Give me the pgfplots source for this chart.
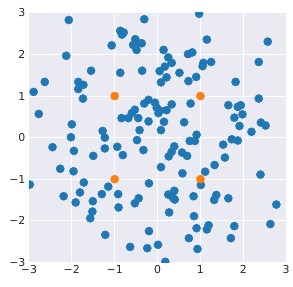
\documentclass[border=0pt]{standalone}
\usepackage{fontspec}
\setmainfont{DejaVu Sans}
\usepackage{pgfplots}
\pgfplotsset{compat=1.18}
\definecolor{sbbg}{HTML}{EAEAF2}
\definecolor{tabblue}{HTML}{1F77B4}
\definecolor{taborange}{HTML}{FF7F0E}
\definecolor{lab}{HTML}{262626}
\begin{document}
\begin{tikzpicture}
\begin{axis}[
  scale only axis,
  width=258bp, height=250bp,
  xmin=-3, xmax=3, ymin=-3, ymax=3,
  axis background/.style={fill=sbbg},
  axis line style={draw=none},
  major tick length=0pt,
  xtick={-3,-2,-1,0,1,2,3},
  ytick={-3,-2,-1,0,1,2,3},
  xticklabels={−3,−2,−1,0,1,2,3},
  yticklabels={−3,−2,−1,0,1,2,3},
  ticklabel style={font=\fontsize{11}{13}\selectfont, text=lab},
  grid=major,
  major grid style={white, line width=1bp},
  clip marker paths=true,
]
\addplot[only marks, mark=*, mark size=4.1bp, color=tabblue, mark options={draw=tabblue, fill=tabblue}] table {
x y
-2.07 2.83
-2.13 1.97
-1.55 1.61
-2.63 1.34
-2.89 1.10
-1.85 1.34
-1.73 1.27
-1.85 1.17
-1.74 0.94
-3.02 0.66
-2.77 0.57
-2.00 0.32
-2.02 0.01
-1.07 2.22
-0.31 2.85
-0.87 2.57
-0.79 2.53
-0.83 2.48
-0.52 2.37
-0.45 2.27
-0.37 2.27
-0.57 2.23
-0.49 2.11
-0.87 1.56
-0.36 1.61
-0.60 0.59
-0.53 0.67
-0.68 0.47
-0.84 0.47
-0.45 0.47
-0.31 0.82
-0.21 0.91
-0.06 0.84
-0.02 0.72
0.02 0.59
-0.21 0.39
-0.42 0.18
-1.28 0.16
-1.23 0.00
0.73 3.04
0.97 2.98
1.15 2.36
0.14 2.11
0.25 1.93
0.33 1.80
0.17 1.71
0.05 1.60
0.21 1.45
0.08 1.33
0.71 2.01
0.81 2.05
1.07 1.80
1.05 1.72
1.25 1.82
0.51 1.56
0.72 1.36
0.90 1.46
0.77 0.82
0.06 0.65
0.21 0.66
0.33 0.80
0.15 0.38
0.08 0.18
0.62 0.37
0.91 0.07
0.75 -0.08
0.87 -0.08
2.57 2.31
2.36 1.82
1.82 1.34
2.36 0.94
1.65 0.78
1.87 0.74
1.94 0.78
1.98 0.56
1.79 0.48
1.91 0.28
2.41 0.36
2.52 0.29
2.19 0.14
1.73 -0.04
1.87 -0.07
1.53 -0.17
1.57 -0.48
2.40 -0.89
0.39 -0.21
0.33 -0.34
0.26 -0.45
0.57 -0.36
0.69 -0.44
0.08 -0.71
0.58 -0.86
1.11 -0.82
1.33 -0.66
1.01 -1.14
0.25 -1.37
0.39 -1.28
0.36 -1.45
0.40 -1.49
0.84 -1.41
1.37 -1.38
1.32 -1.50
1.65 -1.46
0.27 -1.80
0.85 -1.89
0.91 -2.18
1.19 -2.11
1.15 -2.21
0.73 -2.42
0.93 -2.68
0.01 -2.58
0.18 -2.99
2.77 -1.61
2.63 -2.08
1.79 -2.13
1.71 -2.42
-0.48 -0.06
-0.94 -0.22
-1.23 -0.26
-0.81 -0.42
-0.33 -0.30
-2.45 -0.23
-1.95 -0.32
-1.50 -0.44
-2.27 -0.75
-1.96 -0.81
-2.98 -1.13
-1.72 -1.08
-1.81 -1.32
-2.19 -1.41
-1.91 -1.56
-1.51 -1.53
-1.52 -1.78
-1.57 -1.94
-1.15 -1.18
-1.30 -1.36
-0.92 -1.36
-0.91 -1.68
-0.44 -1.46
-0.53 -1.58
-0.20 -1.10
-1.22 -2.34
-0.20 -2.25
-0.64 -2.63
-0.24 -2.66
-0.44 -3.03
-0.22 -3.02
};
\addplot[only marks, mark=*, mark size=4.1bp, color=taborange, mark options={draw=taborange, fill=taborange}] coordinates {
(-1,1) (1,1) (-1,-1) (1,-1)
};
\end{axis}
\path (current axis.south west) ++(-29bp,-24bp) (current axis.north east) ++(6bp,13bp);
\path (current axis.south west) ++(-29bp,-24bp) coordinate (bbA);
\path (current axis.north east) ++(6bp,13bp) coordinate (bbB);
\path (bbA) rectangle (bbB);
\end{tikzpicture}
\end{document}
